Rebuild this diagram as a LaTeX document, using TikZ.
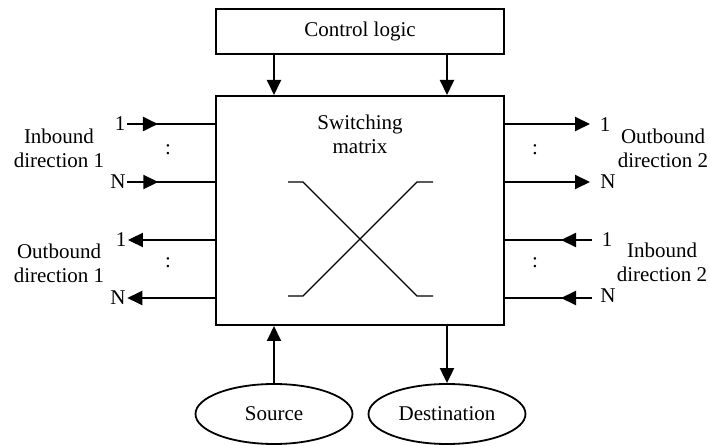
\documentclass[tikz,border=0pt]{standalone}
\usepackage{fontspec}
\setmainfont{Liberation Serif}
\usetikzlibrary{arrows.meta,decorations.markings,shapes.geometric}
\begin{document}
\begin{tikzpicture}[x=1pt,y=-1pt,
  font=\fontsize{21}{24}\selectfont,
  box/.style={draw, line width=2pt, inner sep=0pt},
  oval/.style={draw, ellipse, line width=1.8pt, inner sep=0pt, minimum width=157pt, minimum height=60pt},
  lbl/.style={inner sep=1.5pt},
  conn/.style={line width=2pt},
  tip/.style={-{Triangle[length=15pt,width=14pt]}},
  midtip/.style={postaction=decorate, decoration={markings, mark=at position 31pt with {\arrow{Triangle[length=15pt,width=14pt]}}}},
  xline/.style={line width=1.4pt}
]
\useasboundingbox (0,0) rectangle (710,446);

% boxes
\node[box, minimum width=288pt, minimum height=45pt] (ctl) at (360,31.5) {Control logic};
\node[box, minimum width=288pt, minimum height=229pt] (sw) at (360,210.5) {};
\node[align=center, inner sep=0pt] (swl) at (360,134) {Switching\\matrix};

% crossing inside switching matrix
\draw[xline] (288,182) -- (303,182) -- (417,296) -- (433,296);
\draw[xline] (288,296) -- (303,296) -- (417,182) -- (433,182);

% ellipses
\node[oval] (src) at (274,414) {Source};
\node[oval] (dst) at (447,414) {Destination};

% vertical connectors
\coordinate (ca) at (274,0);
\coordinate (cb) at (447,0);
\draw[conn,tip] (ctl.south -| ca) -- (sw.north -| ca);
\draw[conn,tip] (ctl.south -| cb) -- (sw.north -| cb);
\draw[conn,tip] (src.north) -- (sw.south -| src.north);
\draw[conn,tip] (sw.south -| dst.north) -- (dst.north);

% left side labels
\node[lbl] (li1) at (120,124) {1};
\node[lbl] (liN) at (118,182) {N};
\node[lbl] (lo1) at (121,240) {1};
\node[lbl] (loN) at (118,298) {N};
\node[inner sep=0pt] (lc1) at (168,150) {:};
\node[inner sep=0pt] (lc2) at (168,263) {:};
\node[align=center, inner sep=0pt] (in1) at (59,148) {Inbound\\direction 1};
\node[align=center, inner sep=0pt] (out1) at (59,263) {Outbound\\direction 1};

\draw[conn,midtip] (li1.east) -- (li1.east -| sw.west);
\draw[conn,midtip] (liN.east) -- (liN.east -| sw.west);
\draw[conn,tip] (sw.west |- lo1) -- (lo1.east);
\draw[conn,tip] (sw.west |- loN) -- (loN.east);

% right side labels
\node[lbl] (ro1) at (605,125) {1};
\node[lbl] (roN) at (608,182) {N};
\node[lbl] (ri1) at (607,240) {1};
\node[lbl] (riN) at (608,296) {N};
\node[inner sep=0pt] (rc1) at (535,150) {:};
\node[inner sep=0pt] (rc2) at (535,263) {:};
\node[align=center, inner sep=0pt] (out2) at (663,148) {Outbound\\direction 2};
\node[align=center, inner sep=0pt] (in2) at (662,262) {Inbound\\direction 2};

\coordinate (re1) at (590,124);
\coordinate (reN) at (590,182);
\coordinate (rs1) at (592,240);
\coordinate (rsN) at (592,298);
\draw[conn,tip] (sw.east |- re1) -- (re1);
\draw[conn,tip] (sw.east |- reN) -- (reN);
\draw[conn,midtip] (rs1) -- (rs1 -| sw.east);
\draw[conn,midtip] (rsN) -- (rsN -| sw.east);
\end{tikzpicture}
\end{document}
